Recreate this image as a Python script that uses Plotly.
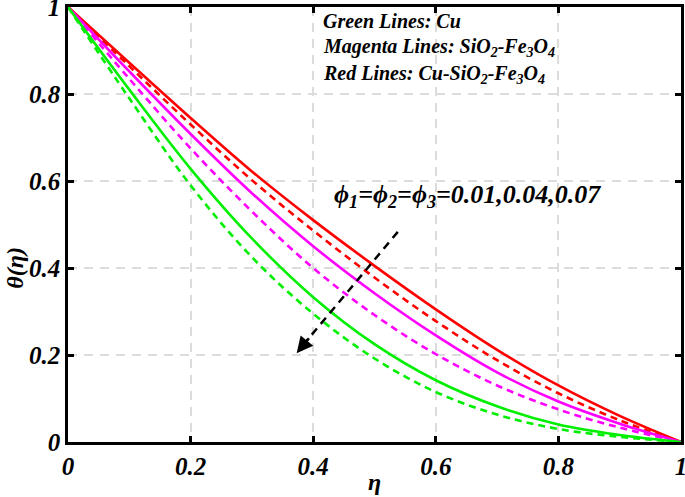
import plotly.graph_objects as go

eta = [0.0, 0.1, 0.2, 0.3, 0.4, 0.5, 0.6, 0.7, 0.8, 0.9, 1.0]

red_solid = [1.0, 0.872, 0.745, 0.622, 0.510, 0.405, 0.305, 0.212, 0.130, 0.060, 0.0]
red_dash = [1.0, 0.864, 0.730, 0.602, 0.486, 0.378, 0.278, 0.188, 0.112, 0.050, 0.0]
mag_solid = [1.0, 0.852, 0.708, 0.572, 0.450, 0.342, 0.245, 0.160, 0.093, 0.042, 0.0]
mag_dash = [1.0, 0.835, 0.675, 0.530, 0.400, 0.292, 0.202, 0.130, 0.075, 0.033, 0.0]
green_solid = [1.0, 0.810, 0.628, 0.468, 0.333, 0.225, 0.142, 0.082, 0.040, 0.016, 0.0]
green_dash = [1.0, 0.790, 0.590, 0.425, 0.295, 0.192, 0.115, 0.063, 0.030, 0.012, 0.0]

tick_vals = [0, 0.2, 0.4, 0.6, 0.8, 1]
tick_text = ["0", "0.2", "0.4", "0.6", "0.8", "1"]

RED = "#ff0000"
MAG = "#ff00ff"
GRN = "#00ee00"
DASH = "7px,5px"

series = [
    (red_solid, RED, "solid"),
    (red_dash, RED, DASH),
    (mag_solid, MAG, "solid"),
    (mag_dash, MAG, DASH),
    (green_solid, GRN, "solid"),
    (green_dash, GRN, DASH),
]

fig = go.Figure()
for ys, col, dash in series:
    fig.add_trace(go.Scatter(x=eta, y=ys, mode="lines",
                             line=dict(color=col, width=2.6, dash=dash, shape="spline", smoothing=1.0),
                             showlegend=False, hoverinfo="skip"))

FONT = "Liberation Serif"

axis_common = dict(
    range=[0, 1], tickvals=tick_vals, ticktext=tick_text,
    showline=True, linecolor="black", linewidth=2.5, mirror="ticks",
    ticks="inside", ticklen=6, tickwidth=2.5, tickcolor="black",
    showgrid=True, gridcolor="#dcdcdc", gridwidth=2, griddash="9px,7px",
    zeroline=False, automargin=False, ticklabeloverflow="allow",
    tickfont=dict(family=FONT, size=25, color="black", weight="bold", style="italic"),
)

fig.update_layout(
    width=685, height=497,
    margin=dict(l=68, r=4, t=7, b=55),
    paper_bgcolor="white", plot_bgcolor="white",
    xaxis=dict(**axis_common),
    yaxis=dict(**axis_common),
)

tfont = dict(family=FONT, color="black", weight="bold", style="italic")

# Axis titles
fig.add_annotation(x=0.5, y=-0.093, xref="paper", yref="paper", showarrow=False,
                   xanchor="center", yanchor="middle", text="η", font=dict(size=24, **tfont))
fig.add_annotation(x=-0.087, y=0.40, xref="paper", yref="paper", showarrow=False, textangle=-90,
                   xanchor="center", yanchor="middle", text="θ(η)", font=dict(size=24, **tfont))

# Arrow (dashed line + arrowhead)
fig.add_shape(type="line", x0=0.538, y0=0.483, x1=0.383, y1=0.222,
              line=dict(color="black", width=2.5, dash="8px,6px"))
fig.add_annotation(x=0.373, y=0.204, ax=0.395, ay=0.242, xref="x", yref="y", axref="x", ayref="y",
                   showarrow=True, arrowhead=2, arrowsize=1.3, arrowwidth=2.5, arrowcolor="black", text="")

fig.add_annotation(x=0.43, y=0.565, xref="x", yref="y", xanchor="left", yanchor="middle", showarrow=False,
                   text="ϕ<sub>1</sub>=ϕ<sub>2</sub>=ϕ<sub>3</sub>=0.01,0.04,0.07", font=dict(size=26, **tfont))

labels = [
    ("Green Lines: Cu", 0.968),
    ("Magenta Lines: SiO<sub>2</sub>-Fe<sub>3</sub>O<sub>4</sub>", 0.908),
    ("Red Lines: Cu-SiO<sub>2</sub>-Fe<sub>3</sub>O<sub>4</sub>", 0.845),
]
for txt, yy in labels:
    fig.add_annotation(x=0.412, y=yy, xref="x", yref="y", xanchor="left", yanchor="middle", showarrow=False,
                       text=txt, font=dict(size=20, **tfont))

fig.write_html("out.html", config={"displayModeBar": False},
               post_script="document.body.style.margin='0';document.body.style.padding='0';")
